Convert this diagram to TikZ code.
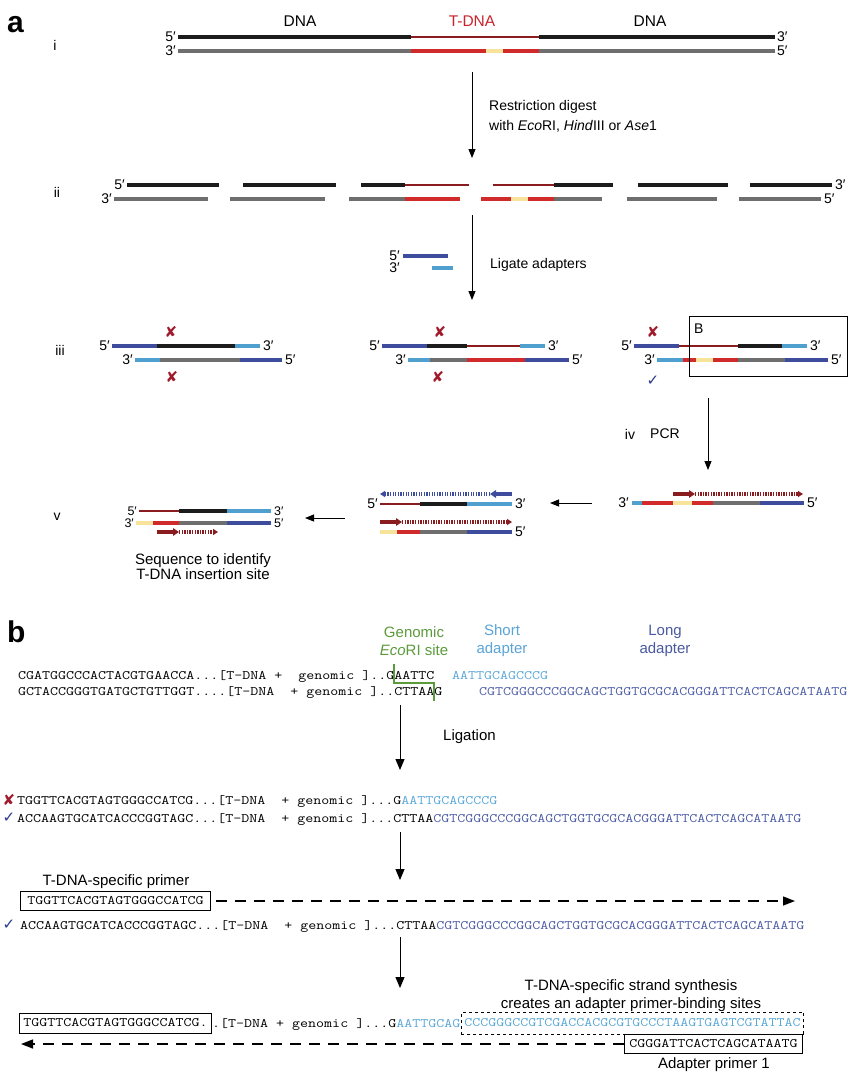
\documentclass[tikz,border=0pt]{standalone}
\usepackage{fontspec}
\setmainfont{Liberation Sans}
\newfontfamily\djv{DejaVu Sans}
\usepackage{graphicx}
\usetikzlibrary{arrows.meta}
\definecolor{cblk}{HTML}{1C1C1C}
\definecolor{cgry}{HTML}{6E6E6E}
\definecolor{cdred}{HTML}{8A1B1E}
\definecolor{cred}{HTML}{D02A2A}
\definecolor{cyel}{HTML}{F7E49A}
\definecolor{cdblu}{HTML}{3D4C9C}
\definecolor{clblu}{HTML}{4FA0CF}
\definecolor{ctdna}{HTML}{C8232C}
\definecolor{cx}{HTML}{A01A2C}
\definecolor{cchk}{HTML}{2C3A8E}
\definecolor{cgrn}{HTML}{5C9B3C}
\definecolor{cshort}{HTML}{5AA4D6}
\definecolor{clong}{HTML}{4A5AA0}
\definecolor{cseqlb}{HTML}{5AA8D8}
\definecolor{cseqdb}{HTML}{4C5CA6}
\newcommand\sq[1]{\scalebox{1.2}[1]{\fontsize{12.95}{15}\selectfont\ttfamily #1}}
\def\W{4.5}\def\R{3.4}\def\D{2.6}\def\A{4}
\newcommand\dnastrand[2]{\foreach \xa/\xb/\cc/\ww in {#2}{\draw[line width=\ww pt,color=\cc] (\xa,#1) -- (\xb,#1);}}
\newcommand\dnaprimer[5]{%
  \draw[psolid,color=#5] (#2,#1) -- (#3,#1);
  \draw[pdash,color=#5] (#3,#1) -- (#4,#1);}
\begin{document}
\begin{tikzpicture}[x=1pt,y=-1pt,
  lab/.style={inner sep=0, font=\fontsize{14}{17}\selectfont},
  lbl/.style={inner sep=0, font=\fontsize{15}{18}\selectfont},
  endl/.style={inner sep=0, font=\fontsize{14}{14}\selectfont},
  endv/.style={inner sep=0, font=\fontsize{12.5}{12.5}\selectfont},
  seqn/.style={inner sep=0, anchor=base west},
  varrow/.style={line width=0.9pt, -{Triangle[length=9pt,width=7pt]}},
  barrow/.style={line width=1pt, -{Triangle[length=11pt,width=9pt]}},
  darrow/.style={line width=1.4pt, dash pattern=on 11pt off 8pt, -{Triangle[length=12pt,width=9pt]}},
  psolid/.style={line width=3.2pt, -{Triangle[length=6pt,width=7.5pt]}},
  pdash/.style={line width=3.2pt, dash pattern=on 1.3pt off 1.3pt, -{Triangle[length=5pt,width=6pt]}},
  xmark/.style={inner sep=0, text=cx, font=\djv\fontsize{15}{15}\selectfont},
  cmark/.style={inner sep=0, text=cchk, font=\djv\fontsize{15}{15}\selectfont},
  seqbox/.style={draw, line width=0.9pt, inner ysep=0pt, minimum height=19pt, anchor=west},
]
\path[use as bounding box, fill=white] (0,0) rectangle (850,1080);

% ---------------- panel a ----------------
\node[inner sep=0, anchor=base west, font=\fontsize{30}{30}\selectfont\bfseries] (la) at (7,32) {a};
\node[lab] (pi) at (55,45) {i};
\node[lab, font=\fontsize{15.5}{17}\selectfont] (dna1) at (300,21) {DNA};
\node[lab, font=\fontsize{15.5}{17}\selectfont, text=ctdna] (tdna) at (472,21) {T-DNA};
\node[lab, font=\fontsize{15.5}{17}\selectfont] (dna2) at (650,21) {DNA};
\dnastrand{37}{178/411/cblk/\W, 411/539/cdred/\D, 539/775/cblk/\W}
\dnastrand{51}{178/411/cgry/\W, 411/486/cred/\R, 486/503/cyel/\R, 503/539/cred/\R, 539/775/cgry/\W}
\node[endl, anchor=east] (i5a) at (176,37) {5′};
\node[endl, anchor=east] (i3a) at (176,51) {3′};
\node[endl, anchor=west] (i3b) at (777,37) {3′};
\node[endl, anchor=west] (i5b) at (777,51) {5′};

\coordinate (a1s) at (472,72); \coordinate (a1e) at (472,158);
\draw[varrow] (a1s) -- (a1e);
\node[lab, anchor=west, align=left, font=\fontsize{14}{20}\selectfont] (rd) at (489,116) {Restriction digest\\with \textit{Eco}RI, \textit{Hind}III or \textit{Ase}1};

% ii
\node[lab] (pii) at (57,192) {ii};
\dnastrand{185}{127/219/cblk/\W, 243/336/cblk/\W, 361/405/cblk/\W, 405/469/cdred/\D, 493/554/cdred/\D, 554/613/cblk/\W, 638/728/cblk/\W, 750/832/cblk/\W}
\dnastrand{199}{114/208/cgry/\W, 230/325/cgry/\W, 349/405/cgry/\W, 405/460/cred/\R, 481/511/cred/\R, 511/528/cyel/\R, 528/554/cred/\R, 554/602/cgry/\W, 627/717/cgry/\W, 739/821/cgry/\W}
\node[endl, anchor=east] (ii5a) at (125,185) {5′};
\node[endl, anchor=east] (ii3a) at (112,199) {3′};
\node[endl, anchor=west] (ii3b) at (835,185) {3′};
\node[endl, anchor=west] (ii5b) at (824,199) {5′};

\coordinate (a2s) at (472,215); \coordinate (a2e) at (472,300);
\draw[varrow] (a2s) -- (a2e);
\dnastrand{256}{403/448/cdblu/\A}
\dnastrand{268}{432/453/clblu/\A}
\node[endl, anchor=east] (ad5) at (400,256) {5′};
\node[endl, anchor=east] (ad3) at (400,268) {3′};
\node[lab, anchor=west] (lig) at (490,265) {Ligate adapters};

% iii
\node[lab] (piii) at (60,350) {iii};
\dnastrand{346}{112/157/cdblu/\W, 157/235/cblk/\W, 235/260/clblu/\W}
\dnastrand{360}{135/160/clblu/\W, 160/240/cgry/\W, 240/282/cdblu/\W}
\node[endl, anchor=east] (L5a) at (110,346) {5′};
\node[endl, anchor=west] (L3a) at (263,346) {3′};
\node[endl, anchor=east] (L3b) at (133,360) {3′};
\node[endl, anchor=west] (L5b) at (285,360) {5′};
\node[xmark] (Lx1) at (171,332) {✘};
\node[xmark] (Lx2) at (172,377) {✘};

\dnastrand{346}{382/427/cdblu/\W, 427/467/cblk/\W, 467/520/cdred/\D, 520/545/clblu/\W}
\dnastrand{360}{408/430/clblu/\W, 430/467/cgry/\W, 467/525/cred/\R, 525/569/cdblu/\W}
\node[endl, anchor=east] (M5a) at (380,346) {5′};
\node[endl, anchor=west] (M3a) at (548,346) {3′};
\node[endl, anchor=east] (M3b) at (406,360) {3′};
\node[endl, anchor=west] (M5b) at (572,360) {5′};
\node[xmark] (Mx1) at (440,332) {✘};
\node[xmark] (Mx2) at (438,377) {✘};

\dnastrand{346}{634/679/cdblu/\W, 679/738/cdred/\D, 738/782/cblk/\W, 782/807/clblu/\W}
\dnastrand{360}{657/683/clblu/\W, 683/696/cred/\R, 696/713/cyel/\R, 713/738/cred/\R, 738/785/cgry/\W, 785/828/cdblu/\W}
\node[endl, anchor=east] (R5a) at (632,346) {5′};
\node[endl, anchor=west] (R3a) at (810,346) {3′};
\node[endl, anchor=east] (R3b) at (655,360) {3′};
\node[endl, anchor=west] (R5b) at (831,360) {5′};
\node[xmark] (Rx1) at (653,332) {✘};
\node[cmark] (Rc) at (653,381) {✓};
\node[draw, line width=0.8pt, inner sep=0, minimum width=158pt, minimum height=60pt, anchor=north west] (boxB) at (689,316) {};
\node[lab, anchor=west] (lB) at (694,329) {B};

% iv
\coordinate (a3s) at (708,398); \coordinate (a3e) at (708,470);
\draw[varrow] (a3s) -- (a3e);
\node[lab] (liv) at (630,434) {iv};
\node[lab] (lpcr) at (665,434) {PCR};

\dnastrand{503}{632/642/clblu/\W, 642/673/cred/\R, 673/692/cyel/\R, 692/713/cred/\R, 713/760/cgry/\W, 760/804/cdblu/\W}
\node[endl, anchor=east] (P3) at (629,503) {3′};
\node[endl, anchor=west] (P5) at (807,503) {5′};
\dnaprimer{494}{673}{695}{803}{cdred}

\coordinate (a4s) at (592,503); \coordinate (a4e) at (550,503);
\draw[varrow] (a4s) -- (a4e);

% v middle
\dnastrand{504}{380/420/cdred/\D, 420/467/cblk/\W, 467/512/clblu/\W}
\dnastrand{532}{380/397/cyel/\R, 397/420/cred/\R, 420/467/cgry/\W, 467/512/cdblu/\W}
\node[endl, anchor=east] (V5a) at (378,504) {5′};
\node[endl, anchor=west] (V3a) at (515,504) {3′};
\node[endl, anchor=west] (V5b) at (515,532) {5′};
\dnaprimer{494}{512}{490}{380}{cdblu}
\dnaprimer{522}{380}{402}{512}{cdred}

\coordinate (a5s) at (345,518); \coordinate (a5e) at (305,518);
\draw[varrow] (a5s) -- (a5e);

% v left
\node[lab] (pv) at (57,517) {v};
\dnastrand{511}{139/179/cdred/\D, 179/227/cblk/\W, 227/271/clblu/\W}
\dnastrand{523}{136/153/cyel/\R, 153/179/cred/\R, 179/227/cgry/\W, 227/271/cdblu/\W}
\node[endv, anchor=east] (W5a) at (137,511) {5′};
\node[endv, anchor=east] (W3a) at (134,523) {3′};
\node[endv, anchor=west] (W3b) at (274,511) {3′};
\node[endv, anchor=west] (W5b) at (274,523) {5′};
\dnaprimer{532}{157}{179}{218}{cdred}
\node[lbl, align=center, font=\fontsize{15}{15}\selectfont] (seqid) at (203,567) {Sequence to identify\\T-DNA insertion site};

% ---------------- panel b ----------------
\node[inner sep=0, anchor=base west, font=\fontsize{30}{30}\selectfont\bfseries] (lb) at (7,642) {b};
\node[lbl, text=cgrn, align=center] (gen) at (414,641) {Genomic\\\textit{Eco}RI site};
\node[lbl, text=cshort, align=center] (shrt) at (502,641) {Short\\adapter};
\node[lbl, text=clong, align=center] (lng) at (665,641) {Long\\adapter};

\node[seqn] (b1) at (18,679) {\sq{CGATGGCCCACTACGTGAACCA...[T-DNA~+~~genomic~]..GAATTC}};
\node[seqn] (b1s) at (452,679) {\sq{\textcolor{cseqlb}{AATTGCAGCCCG}}};
\node[seqn] (b2) at (18,695) {\sq{GCTACCGGGTGATGCTGTTGGT....[T-DNA~~+~genomic~]..CTTAAG}};
\node[seqn] (b2l) at (479,695) {\sq{\textcolor{cseqdb}{CGTCGGGCCCGGCAGCTGGTGCGCACGGGATTCACTCAGCATAATG}}};
\draw[cgrn, line width=1.1pt] (394,664) -- (394,683) -- (434,683) -- (434,701);

\coordinate (b1a) at (400,705); \coordinate (b1b) at (400,770);
\draw[barrow] (b1a) -- (b1b);
\node[lbl, anchor=west] (ligt) at (443,737) {Ligation};

\node[xmark] (bx) at (9,800) {✘};
\node[seqn] (b3) at (17,804) {\sq{TGGTTCACGTAGTGGGCCATCG...[T-DNA~~+~genomic~]...G\textcolor{cseqlb}{AATTGCAGCCCG}}};
\node[cmark] (bc1) at (9,818) {✓};
\node[seqn] (b4) at (17,822) {\sq{ACCAAGTGCATCACCCGGTAGC...[T-DNA~~+~genomic~]...CTTAA\textcolor{cseqdb}{CGTCGGGCCCGGCAGCTGGTGCGCACGGGATTCACTCAGCATAATG}}};

\coordinate (b2a) at (400,832); \coordinate (b2b) at (400,880);
\draw[barrow] (b2a) -- (b2b);
\node[lbl] (tprim) at (116,882) {T-DNA-specific primer};
\node[seqbox, inner xsep=7pt] (pbox) at (20,901) {\sq{TGGTTCACGTAGTGGGCCATCG}};
\coordinate (d1e) at (795,901);
\draw[darrow] ([xshift=5pt]pbox.east) -- (d1e);
\node[cmark] (bc2) at (9,925) {✓};
\node[seqn] (b5) at (20,929) {\sq{ACCAAGTGCATCACCCGGTAGC...[T-DNA~~+~genomic~]...CTTAA\textcolor{cseqdb}{CGTCGGGCCCGGCAGCTGGTGCGCACGGGATTCACTCAGCATAATG}}};

\coordinate (b3a) at (400,937); \coordinate (b3b) at (400,988);
\draw[barrow] (b3a) -- (b3b);
\node[lbl, align=center] (synth) at (631,996) {T-DNA-specific strand synthesis\\creates an adapter primer-binding sites};

\node[seqbox, inner xsep=4pt, minimum height=20pt] (f1) at (19,1023) {\sq{TGGTTCACGTAGTGGGCCATCG.}};
\node[seqn] (f2) at (212,1027) {\sq{.[T-DNA~+~genomic~]...G\textcolor{cseqlb}{AATTGCAG}}};
\node[seqbox, dashed, line width=0.8pt, inner xsep=3pt, minimum height=22pt] (f3) at (461,1023) {\sq{\textcolor{cseqlb}{CCCGGGCCGTCGACCACGCGTGCCCTAAGTGAGTCGTATTAC}}};

\node[seqbox, inner xsep=5pt] (ap1) at (624,1044) {\sq{CGGGATTCACTCAGCATAATG}};
\coordinate (d2e) at (21,1044);
\draw[darrow] (ap1.west) -- (d2e);
\node[lbl] (apl) at (714,1065) {Adapter primer 1};
\end{tikzpicture}
\end{document}
